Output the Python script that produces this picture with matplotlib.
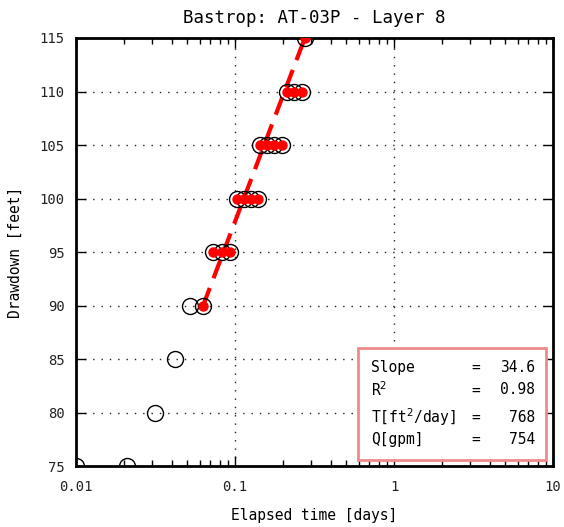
import matplotlib
matplotlib.use("Agg")
import matplotlib.pyplot as plt
from matplotlib.ticker import FixedLocator, FixedFormatter, LogLocator, NullFormatter
from matplotlib.patches import Rectangle

# Data
all_time = [0.0100, 0.0210, 0.0314, 0.0420, 0.0520, 0.0630,
            0.0728, 0.0828, 0.0930,
            0.1030, 0.1140, 0.1260, 0.1400,
            0.1435, 0.1590, 0.1760, 0.1980,
            0.2120, 0.2350, 0.2640,
            0.2750]
all_drawdown = [75, 75, 80, 85, 90, 90,
                95, 95, 95,
                100, 100, 100, 100,
                105, 105, 105, 105,
                110, 110, 110,
                115]
fit_time = [0.0630, 0.0728, 0.0828, 0.0930, 0.1030, 0.1140, 0.1260, 0.1400,
            0.1435, 0.1590, 0.1760, 0.1980, 0.2120, 0.2350, 0.2640, 0.2750]
fit_drawdown = [90, 95, 95, 95, 100, 100, 100, 100,
                105, 105, 105, 105, 110, 110, 110, 115]
line_time = [0.0630, 0.2750]
line_drawdown = [90, 115]

x_ticks = [0.01, 0.1, 1, 10]
x_ticklabels = ["0.01", "0.1", "1", "10"]
y_ticks = [75, 80, 85, 90, 95, 100, 105, 110, 115]

stat_labels = ["Slope", "R$^2$", "T[ft$^2$/day]", "Q[gpm]"]
stat_values = ["34.6", "0.98", "768", "754"]

title = "Bastrop: AT-03P - Layer 8"
xlabel = "Elapsed time [days]"
ylabel = "Drawdown [feet]"

plt.rcParams['font.family'] = ['DejaVu Sans Mono']
plt.rcParams['mathtext.fontset'] = 'dejavusans'

fig = plt.figure(figsize=(5.64, 5.27), dpi=100)
ax = fig.add_axes([0.1348, 0.1157, 0.8457, 0.8122])

ax.set_xscale('log')
ax.set_xlim(0.01, 10)
ax.set_ylim(75, 115)

ax.plot(line_time, line_drawdown, color='red', lw=3, ls=(0, (4.5, 2.5)), zorder=3)
ax.plot(all_time, all_drawdown, ls='none', marker='o', ms=11.5, mfc='none',
        mec='black', mew=1.0, zorder=4)
ax.plot(fit_time, fit_drawdown, ls='none', marker='o', ms=6.5, mfc='red',
        mec='red', zorder=5)

ax.xaxis.set_major_locator(FixedLocator(x_ticks))
ax.xaxis.set_major_formatter(FixedFormatter(x_ticklabels))
ax.xaxis.set_minor_locator(LogLocator(base=10, subs=range(2, 10)))
ax.xaxis.set_minor_formatter(NullFormatter())
ax.set_yticks(y_ticks)

ax.tick_params(which='both', direction='in', top=True, right=True, labelsize=10,
               labelcolor='#222222')
ax.tick_params(which='major', length=7, width=1)
ax.tick_params(which='minor', length=4, width=1)
ax.tick_params(axis='x', pad=10)
ax.tick_params(axis='y', pad=8)

for s in ax.spines.values():
    s.set_linewidth(2)

ax.grid(True, which='major', color='#222222', ls=(0, (1, 5)), lw=1)

ax.set_title(title, fontsize=12.5, pad=11)
ax.set_xlabel(xlabel, fontsize=10.5, labelpad=10)
ax.set_ylabel(ylabel, fontsize=10.5, labelpad=12)

# stats box
box = Rectangle((0.591, 0.014), 0.394, 0.262, transform=ax.transAxes,
                facecolor='white', edgecolor='#f08a8a', lw=2, zorder=6)
ax.add_patch(box)
ys = [0.231, 0.178, 0.114, 0.063]
for lab, val, yy in zip(stat_labels, stat_values, ys):
    ax.text(0.618, yy, lab, transform=ax.transAxes, fontsize=10.5,
            va='center', ha='left', zorder=7)
    ax.text(0.838, yy, "=", transform=ax.transAxes, fontsize=10.5,
            va='center', ha='center', zorder=7)
    ax.text(0.962, yy, val, transform=ax.transAxes, fontsize=10.5,
            va='center', ha='right', zorder=7)

fig.savefig("out.png", dpi=100)
